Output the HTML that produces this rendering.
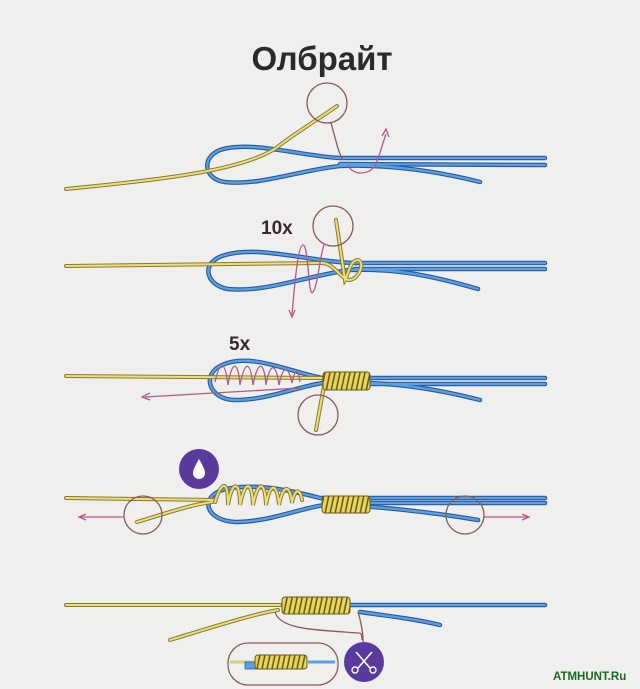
<!DOCTYPE html>
<html><head><meta charset="utf-8"><style>
html,body{margin:0;padding:0;background:#efefee}
svg{display:block}
.yo{fill:none;stroke:#8a7a30;stroke-width:4;stroke-linecap:round}
.yi{fill:none;stroke:#eadf7a;stroke-width:2;stroke-linecap:round}
.bo{fill:none;stroke:#2a5a98;stroke-width:4.5;stroke-linecap:round}
.bi{fill:none;stroke:#5aa0e8;stroke-width:2.2;stroke-linecap:round}
.c{fill:none;stroke:#8a5a5a;stroke-width:1.3}
.p{fill:none;stroke:#b05a8a;stroke-width:1.3}
.coil{fill:#e6d45a;stroke:#7a6a20;stroke-width:1}
</style></head><body>
<svg width="640" height="689" viewBox="0 0 640 689" xmlns="http://www.w3.org/2000/svg">
<defs>
<pattern id="st" width="5" height="20" patternUnits="userSpaceOnUse" patternTransform="skewX(-12)">
<rect width="5" height="20" fill="#e8d65a"/><rect x="3.4" width="1.6" height="20" fill="#6a5a18"/>
</pattern>
</defs>
<text x="322" y="70" text-anchor="middle" font-family="'Liberation Sans','DejaVu Sans',sans-serif" font-weight="bold" font-size="33" fill="#2a2a2a">Олбрайт</text>

<!-- Row 1 -->
<g>
<path class="bo" d="M545 158 L340 158 C300 156 250 140 220 150 C200 158 205 180 225 182 C260 186 300 170 340 166 C390 164 440 172 480 182"/>
<path class="bo" d="M545 165 L340 164"/>
<path class="bi" d="M545 158 L340 158 C300 156 250 140 220 150 C200 158 205 180 225 182 C260 186 300 170 340 166 C390 164 440 172 480 182"/>
<path class="bi" d="M545 165 L340 164"/>
<path class="yo" d="M66 189 C160 180 250 170 280 145 C300 130 320 118 337 106"/>
<path class="yi" d="M66 189 C160 180 250 170 280 145 C300 130 320 118 337 106"/>
<circle class="c" cx="327" cy="103" r="20"/>
<path class="c" d="M331 123 C336 140 338 152 343 160"/>
<path class="p" d="M348 165 C352 175 368 176 375 166 C380 155 382 145 386 134"/>
<path d="M382 136 L386 129 L389 137" fill="none" stroke="#b05a8a" stroke-width="1.3"/>
</g>

<!-- Row 2 -->
<g>
<text x="261" y="234" font-family="'Liberation Sans',sans-serif" font-weight="bold" font-size="19" fill="#3a2a30">10x</text>
<path class="bo" d="M545 263 L355 263 C310 262 260 245 225 255 C200 262 205 285 228 289 C265 293 310 275 350 270 C400 268 440 278 478 289"/>
<path class="bo" d="M545 269 L355 269"/>
<path class="bi" d="M545 263 L355 263 C310 262 260 245 225 255 C200 262 205 285 228 289 C265 293 310 275 350 270 C400 268 440 278 478 289"/>
<path class="bi" d="M545 269 L355 269"/>
<path class="yo" d="M66 266 L320 263 C335 262 340 280 350 280 C360 278 365 262 358 260 C350 260 348 275 345 280 L336 220"/>
<path class="yi" d="M66 266 L320 263 C335 262 340 280 350 280 C360 278 365 262 358 260 C350 260 348 275 345 280 L336 220"/>
<circle class="c" cx="333" cy="226" r="20"/>
<path class="p" d="M292 315 C295 280 298 245 303 245 C309 245 308 300 313 292 C318 285 320 255 324 245"/>
<path d="M289 310 L292 317 L295 310" fill="none" stroke="#b05a8a" stroke-width="1.3"/>
</g>

<!-- Row 3 -->
<g>
<text x="229" y="350" font-family="'Liberation Sans',sans-serif" font-weight="bold" font-size="19" fill="#3a2a30">5x</text>
<path class="bo" d="M545 378 L370 378 L322 378 C290 372 250 352 222 365 C200 375 210 400 235 400 C270 400 300 385 330 382 C400 382 440 390 480 400"/>
<path class="bo" d="M545 384 L370 384"/>
<path class="bi" d="M545 378 L370 378 L322 378 C290 372 250 352 222 365 C200 375 210 400 235 400 C270 400 300 385 330 382 C400 382 440 390 480 400"/>
<path class="bi" d="M545 384 L370 384"/>
<path class="yo" d="M66 376 L322 378"/>
<path class="yi" d="M66 376 L322 378"/>
<path class="p" d="M215 382 C220 360 225 360 228 385 C232 360 238 360 240 385 C245 360 250 360 253 385 C258 360 264 360 266 385 C270 362 276 362 279 385 C283 365 288 365 292 383 C295 368 298 368 300 382"/>
<path class="p" d="M300 388 L145 397"/>
<path d="M150 393 L142 397 L150 400" fill="none" stroke="#b05a8a" stroke-width="1.3"/>
<path class="yo" d="M325 380 L316 430"/>
<path class="yi" d="M325 380 L316 430"/>
<rect x="323" y="372" width="47" height="18" rx="3" fill="url(#st)" stroke="#6a5a18" stroke-width="1"/>
<circle class="c" cx="318" cy="415" r="20"/>
</g>

<!-- Row 4 -->
<g>
<path class="bo" d="M545 498 L370 498 L320 498 C290 490 250 482 222 490 C200 498 205 520 235 522 C270 522 300 508 325 505 C370 505 430 512 478 520"/>
<path class="bo" d="M545 503 L370 503"/>
<path class="bi" d="M545 498 L370 498 L320 498 C290 490 250 482 222 490 C200 498 205 520 235 522 C270 522 300 508 325 505 C370 505 430 512 478 520"/>
<path class="bi" d="M545 503 L370 503"/>
<path class="yo" d="M66 498 L215 500 M137 522 C170 512 190 505 212 502"/>
<path class="yi" d="M66 498 L215 500 M137 522 C170 512 190 505 212 502"/>
<path class="yo" d="M215 502 C222 480 228 480 228 505 C232 480 240 480 240 505 C245 480 252 480 253 505 C258 480 265 480 266 505 C270 482 277 482 279 505 C283 484 290 484 292 503 C295 488 300 488 302 500"/>
<path class="yi" d="M215 502 C222 480 228 480 228 505 C232 480 240 480 240 505 C245 480 252 480 253 505 C258 480 265 480 266 505 C270 482 277 482 279 505 C283 484 290 484 292 503 C295 488 300 488 302 500"/>
<rect x="322" y="496" width="48" height="17" rx="3" fill="url(#st)" stroke="#6a5a18" stroke-width="1"/>
<circle class="c" cx="143" cy="515" r="19"/>
<circle class="c" cx="465" cy="515" r="19"/>
<path class="p" d="M124 517 L80 517 M484 517 L528 517"/>
<path d="M86 514 L79 517 L86 520 M522 514 L529 517 L522 520" fill="none" stroke="#b05a8a" stroke-width="1.3"/>
<circle cx="199" cy="469" r="20" fill="#5a3a9e"/>
<path d="M199 459 C195 466 193 470 193 473 C193 477 196 479 199 479 C202 479 205 477 205 473 C205 470 203 466 199 459 Z" fill="#fff"/>
</g>

<!-- Row 5 -->
<g>
<path class="bo" d="M545 605 L350 605 M360 612 C390 616 420 620 440 625"/>
<path class="bi" d="M545 605 L350 605 M360 612 C390 616 420 620 440 625"/>
<path class="yo" d="M66 605 L280 605 M170 640 C210 628 250 615 278 610"/>
<path class="yi" d="M66 605 L280 605 M170 640 C210 628 250 615 278 610"/>
<rect x="282" y="597" width="68" height="17" rx="3" fill="url(#st)" stroke="#6a5a18" stroke-width="1"/>
<path class="c" d="M275 612 C280 630 320 630 345 632 C360 634 362 630 362 640"/>
<path class="c" d="M358 612 C362 625 363 635 363 642"/>
<rect x="228" y="643" width="110" height="42" rx="20" fill="none" stroke="#8a5a5a" stroke-width="1.3"/>
<path d="M230 662 L260 662" stroke="#d8cf80" stroke-width="3"/>
<path d="M308 662 L335 662" stroke="#5aa0e8" stroke-width="3"/>
<rect x="245" y="662" width="14" height="7" fill="#5aa0e8" stroke="#2a5a98" stroke-width="0.8"/>
<rect x="255" y="655" width="52" height="14" rx="3" fill="url(#st)" stroke="#6a5a18" stroke-width="1"/>
<circle cx="364" cy="662" r="20" fill="#5a3a9e"/>
<path d="M356 652 L370 668 M372 652 L358 668" stroke="#fff" stroke-width="1.6"/>
<circle cx="355" cy="670" r="3" fill="none" stroke="#fff" stroke-width="1.4"/>
<circle cx="373" cy="670" r="3" fill="none" stroke="#fff" stroke-width="1.4"/>
</g>

<text x="553" y="680" font-family="'Liberation Sans',sans-serif" font-weight="bold" font-size="11.5" fill="#1a6a20">ATMHUNT.Ru</text>
</svg>
</body></html>
